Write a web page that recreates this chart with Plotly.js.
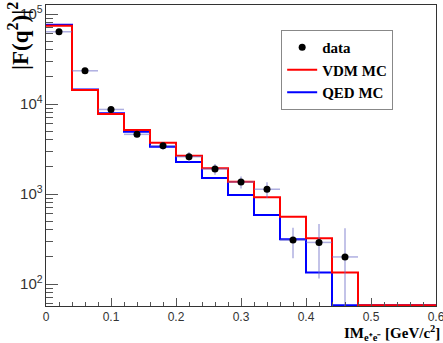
<!DOCTYPE html>
<html><head><meta charset="utf-8">
<script src="https://cdn.plot.ly/plotly-3.0.1.min.js"></script>
<style>body{margin:0;background:#fff}#c{width:443px;height:343px}</style>
</head><body><div id="c"></div>
<script>
// bin edges (0.04 GeV/c^2 bins)
const binEdges = [0,0.04,0.08,0.12,0.16,0.20,0.24,0.28,0.32,0.36,0.40,0.44,0.48,0.52,0.56,0.60];
// VDM MC histogram contents per bin
const vdm = [74000,14300,7740,5140,3720,2670,1930,1370,919,560,322,134,58,58,58];
// QED MC histogram contents per bin
const qed = [76000,14500,7900,4920,3360,2270,1510,975,585,314,134,58,58,58,58];
// data points
const dataX = [0.02,0.06,0.10,0.14,0.18,0.22,0.26,0.30,0.34,0.38,0.42,0.46];
const dataY = [63500,23400,8700,4600,3440,2600,1900,1360,1130,308,290,200];
const dataErr = [700,450,300,260,330,330,260,210,225,115,175,216];
const dataXErr = [0.02,0.02,0.02,0.02,0.02,0.02,0.02,0.02,0.02,0.02,0.02,0.02];
// x tick labels
const xTicks = [0,0.1,0.2,0.3,0.4,0.5,0.6];
const xTickText = ['0','0.1','0.2','0.3','0.4','0.5','0.6'];

const stepY = a => a.concat([a[a.length-1]]);

const traces = [
  {x: binEdges, y: stepY(qed), mode:'lines', line:{shape:'hv', color:'#0000ff', width:2}, name:'QED MC', legendrank:3},
  {x: binEdges, y: stepY(vdm), mode:'lines', line:{shape:'hv', color:'#ff0000', width:2}, name:'VDM MC', legendrank:2},
  {x: dataX, y: dataY, mode:'markers', name:'data', legendrank:1,
   marker:{color:'#000', size:7},
   error_y:{type:'data', array:dataErr, color:'rgba(110,110,200,0.55)', thickness:1.5, width:0},
   error_x:{type:'data', array:dataXErr, color:'rgba(110,110,200,0.55)', thickness:1.5, width:0}}
];

const layout = {
  width:443, height:343,
  margin:{l:46, r:7, t:5, b:37},
  paper_bgcolor:'#fff', plot_bgcolor:'#fff',
  showlegend:true,
  legend:{x:0.603, y:0.917, xanchor:'left', yanchor:'top', bordercolor:'#888', borderwidth:1,
    bgcolor:'#fff', font:{family:'Liberation Serif', size:15, color:'#000', weight:'bold'}},
  xaxis:{range:[0,0.6], tickmode:'array', tickvals:xTicks, ticktext:xTickText, ticklabeloverflow:'allow',
    ticks:'inside', ticklen:8, tickcolor:'#555', showgrid:false, zeroline:false,
    showline:true, linecolor:'#333', linewidth:1, mirror:true, ticklabelstandoff:0,
    tickfont:{family:'Liberation Sans', size:12, color:'#333'},
    minor:{tickmode:'linear', tick0:0, dtick:0.02, ticks:'inside', ticklen:4, tickcolor:'#555', showgrid:false}},
  yaxis:{type:'log', range:[Math.log10(57), 5.1], dtick:1, exponentformat:'power', ticks:'inside', ticklen:12,
    tickcolor:'#555', showgrid:false, zeroline:false, showline:true, linecolor:'#333', linewidth:1, mirror:true,
    tickfont:{family:'Liberation Sans', size:12, color:'#333'},
    minor:{dtick:'D1', ticks:'inside', ticklen:7, tickcolor:'#555', showgrid:false}},
  annotations:[
    {text:'IM<sub>e⁺e⁻</sub> [GeV/c<sup>2</sup>]', xref:'paper', yref:'paper', x:1.012, y:-0.053, xanchor:'right', yanchor:'top',
     borderpad:0, showarrow:false, font:{family:'Liberation Serif', size:15, color:'#000', weight:'bold'}},
    {text:'|F(q<sup>2</sup>)|<sup>2</sup>', xref:'paper', yref:'paper', x:-0.028, y:1.015, xanchor:'right', yanchor:'top',
     textangle:-90, showarrow:false, font:{family:'Liberation Serif', size:23, color:'#000', weight:'bold'}}
  ]
};
Plotly.newPlot('c', traces, layout, {displayModeBar:false, staticPlot:true});
</script></body></html>
